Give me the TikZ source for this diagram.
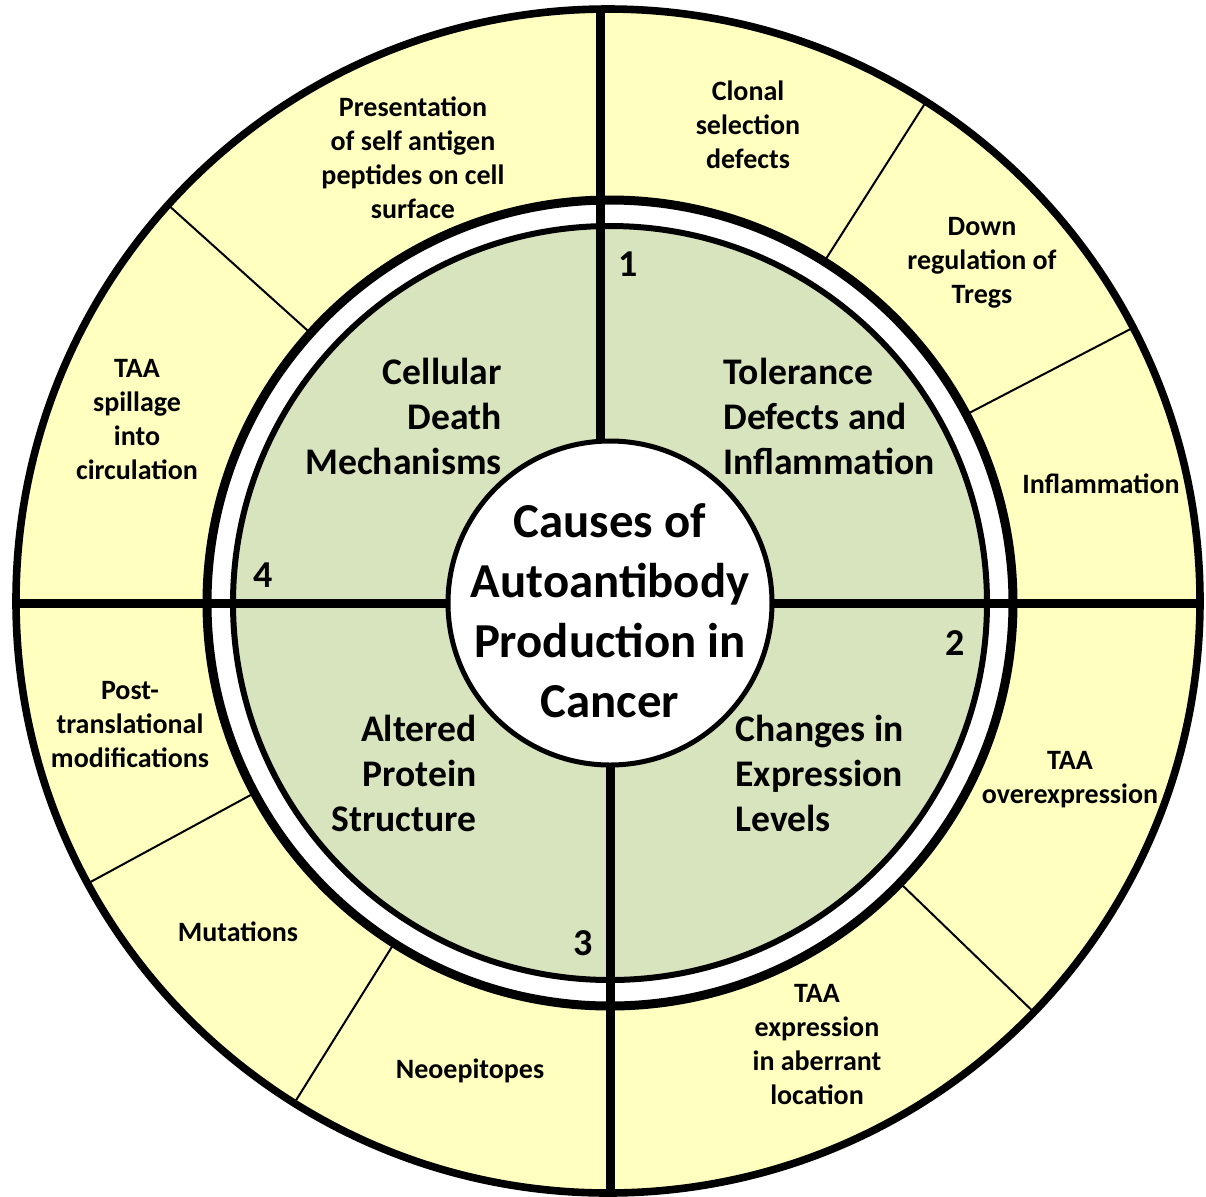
\documentclass[tikz,border=0pt]{standalone}
\usepackage{fontspec}
\setmainfont{Carlito}
\usetikzlibrary{calc}
\definecolor{ringyellow}{HTML}{FFFFC0}
\definecolor{coregreen}{HTML}{D7E4BD}
\tikzset{
    cause/.style={
    font=\bfseries\fontsize{14}{17}\selectfont,align=center,inner sep=0pt
    },
    group/.style={
    font=\bfseries\fontsize{18.8}{22.5}\selectfont,inner sep=0pt
    },
    title/.style={
    font=\bfseries\fontsize{24.4}{30}\selectfont,align=center,inner sep=0pt
    },
    number/.style={
    font=\bfseries\fontsize{19}{22}\selectfont,inner sep=0pt
    },
    divider/.style={
    draw=black,line width=1pt
    },
    spoke/.style={
    draw=black,line width=4.5pt
    },
}

\begin{document}
\begin{tikzpicture}[x=0.5pt,y=-0.5pt]
   \useasboundingbox (0,0) rectangle (1206,1196);
   \coordinate (c) at (608,601);
   \coordinate (m) at (610,603);

   %outer ring
   \fill[ringyellow] (c) circle[radius=592];
   \foreach \a in {-138,-57.5,-27.5,44,122,151.5}
      \draw[divider] ($(c)+(\a:400)$) -- ($(c)+(\a:590)$);

   %inner ring and core
   \fill[white] (m) circle[radius=403];
   \fill[coregreen] (m) circle[radius=377];

   %spokes
   \draw[spoke] (14,603) -- (1202,603);
   \draw[spoke] (600,10) -- (600,450);
   \draw[spoke] (610,760) -- (610,1192);

   \draw[black,line width=3.8pt] (c) circle[radius=592];
   \draw[black,line width=4.5pt] (m) circle[radius=403];
   \draw[black,line width=3pt] (m) circle[radius=377];
   \draw[black,line width=2.5pt,fill=white] (m) circle[radius=162];

   %centre
   \node[title] (causes) at (610,611) {Causes of\\Autoantibody\\Production in\\Cancer};

   %quadrants
   \node[group,anchor=east,align=right] (cellular) at (502,416) {Cellular\\Death\\Mechanisms};
   \node[group,anchor=west,align=left] (tolerance) at (723,416) {Tolerance\\Defects and\\Inflammation};
   \node[group,anchor=west,align=left] (changes) at (735,773) {Changes in\\Expression\\Levels};
   \node[group,anchor=east,align=right] (altered) at (477,773) {Altered\\Protein\\Structure};

   \node[number] (n1) at (628,264) {1};
   \node[number] (n2) at (955,643) {2};
   \node[number] (n3) at (583,943) {3};
   \node[number] (n4) at (263,575) {4};

   %causes 1
   \node[cause] (clonal) at (748,125) {Clonal\\selection\\defects};
   \node[cause] (tregs) at (982,263) {Down\\regulation of\\Tregs};
   \node[cause] (inflam) at (1101,484) {Inflammation};

   %causes 2
   \node[cause] (overexp) at (1070,780) {TAA\\overexpression};
   \node[cause] (aberrant) at (817,1045) {TAA\\expression\\in aberrant\\location};

   %causes 3
   \node[cause] (neo) at (470,1071) {Neoepitopes};
   \node[cause] (mut) at (238,932) {Mutations};
   \node[cause] (ptm) at (130,725) {Post-\\translational\\modifications};

   %causes 4
   \node[cause] (spill) at (137,420) {TAA\\spillage\\into\\circulation};
   \node[cause] (present) at (413,158) {Presentation\\of self antigen\\peptides on cell\\surface};
\end{tikzpicture}
\end{document}
